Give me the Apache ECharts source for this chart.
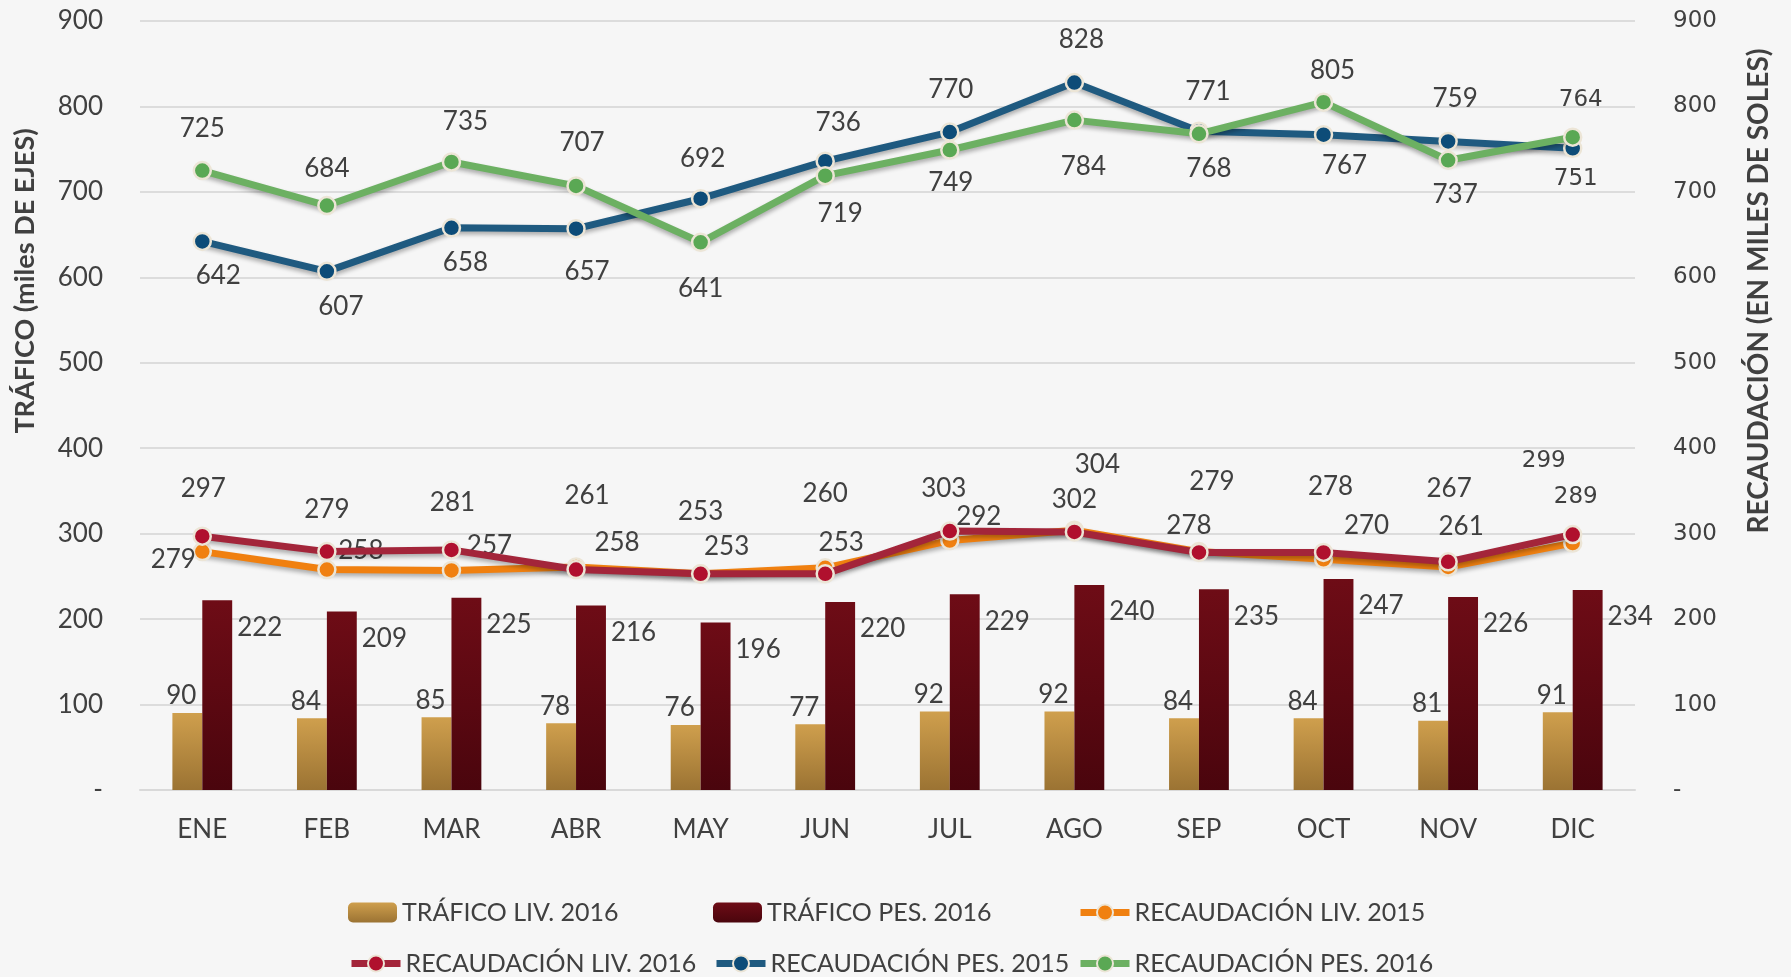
<!DOCTYPE html>
<html>
<head>
<meta charset="utf-8">
<script src="https://cdn.jsdelivr.net/npm/echarts@6/dist/echarts.min.js"></script>
<style>
  html, body { margin: 0; padding: 0; background: #f6f6f6; }
  #main { width: 1791px; height: 977px; }
</style>
</head>
<body>
<div id="main"></div>
<script>
// datos
const months = ['ENE', 'FEB', 'MAR', 'ABR', 'MAY', 'JUN', 'JUL', 'AGO', 'SEP', 'OCT', 'NOV', 'DIC'];
const traficoLiv2016 = [90, 84, 85, 78, 76, 77, 92, 92, 84, 84, 81, 91];
const traficoPes2016 = [222, 209, 225, 216, 196, 220, 229, 240, 235, 247, 226, 234];
const recLiv2015 = [279, 258, 257, 261, 253, 260, 292, 304, 279, 270, 261, 289];
const recLiv2016 = [297, 279, 281, 258, 253, 253, 303, 302, 278, 278, 267, 299];
const recPes2015 = [642, 607, 658, 657, 692, 736, 770, 828, 771, 767, 759, 751];
const recPes2016 = [725, 684, 735, 707, 641, 719, 749, 784, 768, 805, 737, 764];
const axisMin = 0, axisMax = 900, axisStep = 100;

// desplazamiento de etiquetas (px), solo layout
const offLiv2015 = [[-29, 8], [34, -19], [38, -25], [11, -71], [26, -27], [0, -74], [29, -24], [23, -66], [13, -70], [43, -34], [13, -40], [3, -46]];
const offLiv2016 = [[1, -48], [0, -42], [1, -47], [41, -27], [0, -62], [16, -31], [-6, -42], [0, -32], [-10, -27], [7, -66], [1, -73], [-29, -73]];
const offPes2015 = [[16, 34], [14, 35], [14, 35], [11, 43], [2, -40], [13, -39], [1, -42], [7, -43], [9, -40], [21, 31], [7, -43], [3, 31]];
const offPes2016 = [[0, -42], [0, -37], [14, -40], [6, -43], [0, 46], [15, 38], [1, 33], [9, 46], [10, 35], [9, -32], [7, 34], [8, -37]];

const FONT = 'Lato';
const TXT = '#404040';

const chart = echarts.init(document.getElementById('main'));

function withOffsets(values, offs) {
  return values.map(function (v, i) {
    var lab = { offset: offs[i] };
    if (i === values.length - 1) {
      lab.fontFamily = 'DejaVu Sans';
      lab.fontSize = 23;
    }
    return { value: v, label: lab };
  });
}

function lineSeries(name, values, offs, lineColor, dotColor, z) {
  return {
    name: name,
    type: 'line',
    yAxisIndex: 1,
    z: z,
    data: withOffsets(values, offs),
    symbol: 'circle',
    symbolSize: 17,
    lineStyle: {
      color: lineColor, width: 7,
      shadowColor: 'rgba(0,0,0,0.3)', shadowBlur: 4, shadowOffsetY: 3
    },
    itemStyle: { color: dotColor, borderColor: '#ece5d6', borderWidth: 2.5 },
    label: {
      show: true, position: 'inside',
      color: TXT, fontFamily: FONT, fontSize: 26
    },
    emphasis: { disabled: true }
  };
}

// una leyenda por elemento para fijar las columnas
const legendCols = [343, 708, 1072];
const legendRows = [895, 946];
const legendNames = [
  'TRÁFICO LIV. 2016', 'TRÁFICO PES. 2016', 'RECAUDACIÓN LIV. 2015',
  'RECAUDACIÓN LIV. 2016', 'RECAUDACIÓN PES. 2015', 'RECAUDACIÓN PES. 2016'
];
const legends = legendNames.map(function (n, i) {
  return {
    left: legendCols[i % 3], top: legendRows[Math.floor(i / 3)],
    itemWidth: 49, itemHeight: 20,
    lineStyle: { width: 7 },
    textStyle: { color: TXT, fontFamily: FONT, fontSize: 25 },
    data: [n]
  };
});

var option = {
  backgroundColor: '#f6f6f6',
  animation: false,
  grid: { left: 140, right: 156, top: 21, bottom: 187 },
  graphic: [
    {
      type: 'text', x: 25, y: 281, rotation: Math.PI / 2,
      style: {
        text: 'TRÁFICO (miles DE EJES)', fill: TXT,
        font: 'bold 27px Lato', align: 'center', verticalAlign: 'middle'
      }
    },
    {
      type: 'text', x: 1759, y: 291, rotation: Math.PI / 2,
      style: {
        text: 'RECAUDACIÓN (EN MILES DE SOLES)', fill: TXT,
        font: 'bold 28px Lato', align: 'center', verticalAlign: 'middle'
      }
    }
  ],
  legend: legends,
  xAxis: {
    type: 'category',
    data: months,
    axisTick: { show: false },
    axisLine: { lineStyle: { color: '#d9d9d9', width: 2 } },
    axisLabel: { color: TXT, fontFamily: FONT, fontSize: 26, margin: 27 }
  },
  yAxis: [
    {
      type: 'value', min: axisMin, max: axisMax, interval: axisStep,
      splitLine: { lineStyle: { color: '#dcdcdc', width: 2 } },
      axisLabel: {
        color: TXT, fontFamily: FONT, fontSize: 26, margin: 37,
        formatter: function (v) { return v === 0 ? '-' : v; }
      }
    },
    {
      type: 'value', min: axisMin, max: axisMax, interval: axisStep,
      splitLine: { show: false },
      axisLabel: {
        color: TXT, fontFamily: 'DejaVu Sans', fontSize: 23, margin: 38,
        formatter: function (v) { return v === 0 ? '-' : v; }
      }
    }
  ],
  series: [
    {
      name: 'TRÁFICO LIV. 2016',
      type: 'bar',
      data: traficoLiv2016,
      barGap: '0%',
      barCategoryGap: '52%',
      itemStyle: {
        color: new echarts.graphic.LinearGradient(0, 0, 0, 1, [
          { offset: 0, color: '#cf9f4d' }, { offset: 1, color: '#9b7333' }
        ])
      },
      label: {
        show: true, position: 'top', distance: 4, offset: [-6, 0],
        color: TXT, fontFamily: FONT, fontSize: 26
      }
    },
    {
      name: 'TRÁFICO PES. 2016',
      type: 'bar',
      data: traficoPes2016,
      itemStyle: {
        color: new echarts.graphic.LinearGradient(0, 0, 0, 1, [
          { offset: 0, color: '#6e0c16' }, { offset: 1, color: '#4a050d' }
        ])
      },
      label: {
        show: true, position: ['100%', 27], align: 'left', verticalAlign: 'middle',
        offset: [5, 0], color: TXT, fontFamily: FONT, fontSize: 26
      }
    },
    lineSeries('RECAUDACIÓN LIV. 2015', recLiv2015, offLiv2015, '#f08010', '#f08010', 3),
    lineSeries('RECAUDACIÓN LIV. 2016', recLiv2016, offLiv2016, '#a3253a', '#b0102e', 4),
    lineSeries('RECAUDACIÓN PES. 2015', recPes2015, offPes2015, '#1f5a80', '#0d4c78', 5),
    lineSeries('RECAUDACIÓN PES. 2016', recPes2016, offPes2016, '#6cb062', '#5aa854', 6)
  ]
};

chart.setOption(option);
</script>
</body>
</html>
